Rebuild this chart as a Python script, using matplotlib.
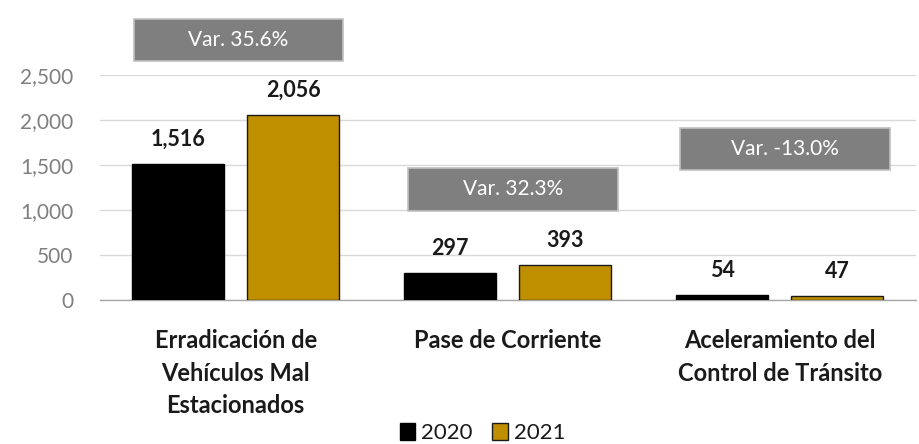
import matplotlib
matplotlib.use("Agg")
import matplotlib.pyplot as plt
from matplotlib.patches import Rectangle
import numpy as np

categories = ["Erradicación de\nVehículos Mal\nEstacionados",
              "Pase de Corriente",
              "Aceleramiento del\nControl de Tránsito"]
values_2020 = [1516, 297, 54]
values_2021 = [2056, 393, 47]
series_names = ["2020", "2021"]
var_labels = ["Var. 35.6%", "Var. 32.3%", "Var. -13.0%"]
yticks = [0, 500, 1000, 1500, 2000, 2500]

FONT = ["Lato", "DejaVu Sans"]
plt.rcParams['font.family'] = FONT

fig = plt.figure(figsize=(9.19, 4.44), dpi=100)
ax = fig.add_axes([0.1085, 0.3243, 0.888, 0.5068])

x = np.arange(len(categories))
w = 0.338
off = 0.211
c2020 = "#000000"
c2021 = "#BF8F00"
b1 = ax.bar(x - off, values_2020, w, color=c2020, edgecolor="#000000", linewidth=1, label=series_names[0], zorder=3)
b2 = ax.bar(x + off, values_2021, w, color=c2021, edgecolor="#1a1a1a", linewidth=1, label=series_names[1], zorder=3)

for bars in (b1, b2):
    for r in bars:
        v = r.get_height()
        ax.annotate(f"{v:,.0f}", (r.get_x() + r.get_width() / 2, v),
                    xytext=(0, 10), textcoords="offset points",
                    ha="center", va="bottom", fontsize=15.5, fontweight="bold", color="#1a1a1a")

ax.set_xlim(-0.5, 2.5)
ax.set_ylim(0, 2500)
ax.set_yticks(yticks)
ax.set_yticklabels([f"{t:,}" for t in yticks], fontsize=15, color="#7f7f7f")
ax.set_xticks(x)
ax.set_xticklabels(categories, fontsize=17, fontweight="bold", color="#1a1a1a", linespacing=1.5, va="top")
ax.tick_params(axis="both", length=0)
ax.tick_params(axis="x", pad=21)
ax.tick_params(axis="y", pad=19)
ax.grid(axis="y", color="#d9d9d9", linewidth=1, zorder=0)
ax.set_axisbelow(True)
for s in ("left", "right", "top"):
    ax.spines[s].set_visible(False)
ax.spines["bottom"].set_color("#a6a6a6")
ax.spines["bottom"].set_linewidth(1)

# variation boxes (layout positions)
box_centers_x = [0.01, 0.02, 0.02]
box_centers_y = [2891, 1228, 1674]
box_w = 0.77
box_h = 470
for cx, cy, lab in zip(x + np.array(box_centers_x), box_centers_y, var_labels):
    rect = Rectangle((cx - box_w / 2, cy - box_h / 2), box_w, box_h,
                     facecolor="#7f7f7f", edgecolor="#c0c0c0", linewidth=1.2,
                     clip_on=False, zorder=5)
    ax.add_patch(rect)
    ax.text(cx, cy, lab, ha="center", va="center", fontsize=15, color="white",
            zorder=6, clip_on=False)

leg = fig.legend(handles=[b1, b2], labels=series_names, loc="center",
                 bbox_to_anchor=(0.525, 0.025), ncol=2, frameon=False,
                 fontsize=16, handlelength=0.7, handleheight=0.8,
                 handletextpad=0.25, columnspacing=0.9, borderpad=0)
for t in leg.get_texts():
    t.set_color("#1a1a1a")

fig.savefig("out.png", dpi=100)
